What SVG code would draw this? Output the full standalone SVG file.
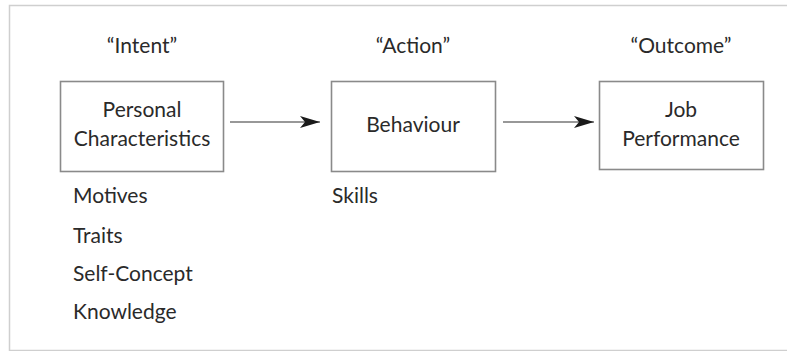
<svg xmlns="http://www.w3.org/2000/svg" width="787" height="351" viewBox="0 0 787 351">
<style>
  text { font-family: Lato, "Open Sans", "Liberation Sans", sans-serif; font-size: 21px; fill: #2a2a2a; }
  .c { text-anchor: middle; }
  .box { fill: #fff; stroke: #8a8a8a; stroke-width: 1.6; }
  .conn { stroke: #333; stroke-width: 1.2; fill: none; }
</style>
<defs>
  <marker id="ah" viewBox="0 0 20 12" refX="20" refY="6" markerWidth="20" markerHeight="12" markerUnits="userSpaceOnUse" orient="auto">
    <path d="M0,0 L20,6 L0,12 L5,6 Z" fill="#1a1a1a"/>
  </marker>
</defs>
<rect width="787" height="351" fill="#fff"/>
<path d="M790,5.5 H9.5 V350.5 H790" fill="none" stroke="#cfcfcf" stroke-width="1.5"/>
<g id="labels">
  <text class="c" x="142" y="53">“Intent”</text>
  <text class="c" x="413" y="53">“Action”</text>
  <text class="c" x="681" y="53">“Outcome”</text>
</g>
<g id="personal">
  <rect class="box" x="60.5" y="81.5" width="163" height="90"/>
  <text class="c" x="142" y="117">Personal</text>
  <text class="c" x="142" y="146">Characteristics</text>
</g>
<g id="behaviour">
  <rect class="box" x="331.5" y="81.5" width="164" height="90"/>
  <text class="c" x="413" y="132">Behaviour</text>
</g>
<g id="performance">
  <rect class="box" x="599.5" y="81.5" width="164" height="88"/>
  <text class="c" x="681" y="117">Job</text>
  <text class="c" x="681" y="146">Performance</text>
</g>
<g id="connectors">
  <line class="conn" x1="230" y1="122" x2="320" y2="122" marker-end="url(#ah)"/>
  <line class="conn" x1="503" y1="122" x2="594" y2="122" marker-end="url(#ah)"/>
</g>
<g id="intent-list">
  <text x="73" y="203">Motives</text>
  <text x="73" y="243">Traits</text>
  <text x="73" y="281">Self-Concept</text>
  <text x="73" y="319">Knowledge</text>
</g>
<g id="action-list">
  <text x="332" y="203">Skills</text>
</g>
</svg>
